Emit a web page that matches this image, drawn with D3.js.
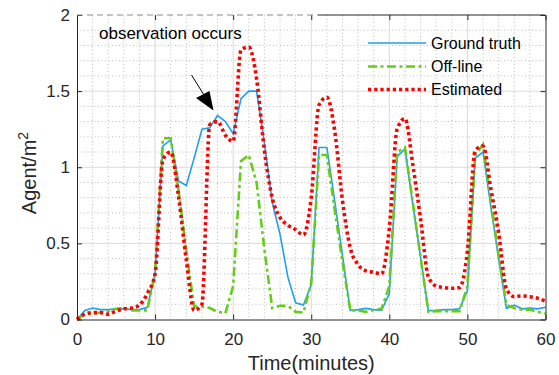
<!DOCTYPE html>
<html>
<head>
<meta charset="utf-8">
<script src="https://cdn.jsdelivr.net/npm/d3@7"></script>
<style>
  html, body { margin: 0; padding: 0; background: #fff; }
  svg { display: block; font-family: "Liberation Sans", Arial, sans-serif; }
</style>
</head>
<body>
<svg id="chart" width="559" height="375"></svg>
<script>
// ---- data ----
const time = d3.range(0, 61);
const groundTruth = [0, 0.06, 0.075, 0.065, 0.065, 0.07, 0.07, 0.065, 0.065, 0.08, 0.3,
  1.14, 1.18, 0.91, 0.88, 1.06, 1.25, 1.26, 1.34, 1.3, 1.22,
  1.45, 1.5, 1.5, 1.16, 0.77, 0.56, 0.28, 0.11, 0.095, 0.23,
  1.13, 1.13, 0.78, 0.42, 0.06, 0.065, 0.073, 0.065, 0.06, 0.17,
  1.07, 1.12, 0.76, 0.41, 0.058, 0.06, 0.065, 0.065, 0.07, 0.19,
  1.06, 1.10, 0.74, 0.40, 0.073, 0.095, 0.07, 0.075, 0.07, 0.08];
const offLine = [0, 0.035, 0.04, 0.045, 0.055, 0.07, 0.075, 0.06, 0.06, 0.06, 0.31,
  1.19, 1.19, 0.85, 0.45, 0.085, 0.085, 0.075, 0.05, 0.042, 0.22,
  1.04, 1.08, 0.9, 0.46, 0.075, 0.09, 0.09, 0.05, 0.045, 0.24,
  1.08, 1.08, 0.72, 0.38, 0.06, 0.06, 0.05, 0.062, 0.07, 0.22,
  1.10, 1.13, 0.77, 0.41, 0.05, 0.055, 0.055, 0.055, 0.055, 0.22,
  1.08, 1.15, 0.78, 0.42, 0.095, 0.075, 0.065, 0.065, 0.05, 0.04];
const estimated = [0, 0.035, 0.045, 0.045, 0.035, 0.055, 0.07, 0.075, 0.095, 0.17, 0.3,
  1.05, 1.1, 0.81, 0.39, 0.06, 0.1, 1.28, 1.30, 1.21, 1.17,
  1.77, 1.79, 1.58, 1.11, 0.8, 0.67, 0.62, 0.59, 0.555, 0.8,
  1.41, 1.46, 1.24, 0.78, 0.47, 0.36, 0.32, 0.31, 0.30, 0.6,
  1.25, 1.32, 1.02, 0.66, 0.28, 0.22, 0.21, 0.205, 0.21, 0.45,
  1.11, 1.14, 0.86, 0.57, 0.2, 0.15, 0.155, 0.15, 0.14, 0.12];
const xTicks = [0, 10, 20, 30, 40, 50, 60];
const yTicks = [0, 0.5, 1, 1.5, 2];
const seriesNames = ["Ground truth", "Off-line", "Estimated"];
const annotation = "observation occurs";

// ---- layout ----
const svg = d3.select("#chart");
const L = 77, R = 545.5, T = 15, B = 319.5;
const x = d3.scaleLinear().domain([0, 60]).range([L, R]);
const y = d3.scaleLinear().domain([0, 2]).range([B, T]);

// minor grid
const gMinor = svg.append("g");
gMinor.selectAll("line.vx").data(d3.range(2, 60, 2).filter(v => v % 10 !== 0)).join("line")
  .attr("x1", d => x(d)).attr("x2", d => x(d)).attr("y1", T).attr("y2", B)
  .attr("stroke", "#bdbdbd").attr("stroke-width", 1).attr("stroke-dasharray", "1,2.5");
gMinor.selectAll("line.hy").data(d3.range(1, 20).filter(v => v % 5 !== 0).map(v => v / 10)).join("line")
  .attr("y1", d => y(d)).attr("y2", d => y(d)).attr("x1", L).attr("x2", R)
  .attr("stroke", "#bdbdbd").attr("stroke-width", 1).attr("stroke-dasharray", "1,2.5");
// major grid
const gMajor = svg.append("g");
gMajor.selectAll("line.vx").data(xTicks.slice(1, -1)).join("line")
  .attr("x1", d => x(d)).attr("x2", d => x(d)).attr("y1", T).attr("y2", B)
  .attr("stroke", "#dadada").attr("stroke-width", 1);
gMajor.selectAll("line.hy").data(yTicks.slice(1, -1)).join("line")
  .attr("y1", d => y(d)).attr("y2", d => y(d)).attr("x1", L).attr("x2", R)
  .attr("stroke", "#dadada").attr("stroke-width", 1);

// series
const lineLin = d3.line().x((d, i) => x(time[i])).y(d => y(d));
const lineSmooth = d3.line().x((d, i) => x(time[i])).y(d => y(d)).curve(d3.curveMonotoneX);
const plot = svg.append("g");
plot.append("path").datum(groundTruth).attr("d", lineLin)
  .attr("fill", "none").attr("stroke", "#1e9ff0").attr("stroke-width", 1.6);
plot.append("path").datum(offLine).attr("d", lineLin)
  .attr("fill", "none").attr("stroke", "#66cc1a").attr("stroke-width", 2.6)
  .attr("stroke-dasharray", "9,3.5,3,3.5");
plot.append("path").datum(estimated).attr("d", lineSmooth)
  .attr("fill", "none").attr("stroke", "#ff0000").attr("stroke-width", 3.6)
  .attr("stroke-dasharray", "3.2,3");

// axes
const axisColor = "#262626";
const fmt = d => String(d);
const gx = svg.append("g").attr("transform", `translate(0,${B})`)
  .call(d3.axisBottom(x).tickValues(xTicks).tickFormat(fmt).tickSizeInner(-5).tickSizeOuter(0).tickPadding(13));
const gy = svg.append("g").attr("transform", `translate(${L},0)`)
  .call(d3.axisLeft(y).tickValues(yTicks).tickFormat(fmt).tickSizeInner(-5).tickSizeOuter(0).tickPadding(7));
const gt = svg.append("g").attr("transform", `translate(0,${T})`)
  .call(d3.axisTop(x).tickValues(xTicks).tickFormat("").tickSizeInner(-5).tickSizeOuter(0));
const gr = svg.append("g").attr("transform", `translate(${R},0)`)
  .call(d3.axisRight(y).tickValues(yTicks).tickFormat("").tickSizeInner(-5).tickSizeOuter(0));
[gx, gy, gt, gr].forEach(g => {
  g.selectAll(".tick line").attr("stroke", axisColor);
  g.selectAll(".domain").attr("stroke", axisColor);
  g.selectAll("text").attr("fill", "#262626").style("font-size", "17px")
    .style("font-family", "'Liberation Sans', Arial, sans-serif");
});
// top border: left part appears dashed grey in the reference
gt.select(".domain").remove();
svg.append("line").attr("x1", L).attr("x2", 318).attr("y1", T).attr("y2", T)
  .attr("stroke", "#8c8c8c").attr("stroke-width", 1.2).attr("stroke-dasharray", "6,4");
svg.append("line").attr("x1", 318).attr("x2", R).attr("y1", T).attr("y2", T)
  .attr("stroke", axisColor).attr("stroke-width", 1);

// axis labels
svg.append("text").attr("x", (L + R) / 2).attr("y", 370).attr("text-anchor", "middle")
  .style("font-size", "20px").attr("fill", "#262626").text("Time(minutes)");
const yl = svg.append("text").attr("transform", "translate(36,173) rotate(-90)")
  .attr("text-anchor", "middle").style("font-size", "20px").attr("fill", "#262626");
yl.append("tspan").text("Agent/m");
yl.append("tspan").attr("dy", "-8").style("font-size", "14px").text("2");

// legend
const legendColors = ["#1e9ff0", "#66cc1a", "#ff0000"];
const legendWidths = [1.6, 2.6, 3.6];
const legendDash = [null, "9,3.5,3,3.5", "3.2,3"];
const legendY = [43, 66.5, 89.5];
const lg = svg.append("g");
seriesNames.forEach((name, i) => {
  lg.append("line").attr("x1", 368).attr("x2", 426).attr("y1", legendY[i]).attr("y2", legendY[i])
    .attr("stroke", legendColors[i]).attr("stroke-width", legendWidths[i])
    .attr("stroke-dasharray", legendDash[i]);
  lg.append("text").attr("x", 431).attr("y", legendY[i]).attr("dy", "0.35em")
    .style("font-size", "16px").attr("fill", "#000").text(name);
});

// annotation
svg.append("text").attr("x", 99).attr("y", 33).attr("dy", "0.35em")
  .style("font-size", "17px").attr("fill", "#000").text(annotation);
svg.append("line").attr("x1", 191.5).attr("y1", 75).attr("x2", 204).attr("y2", 95)
  .attr("stroke", "#000").attr("stroke-width", 1);
svg.append("path").attr("d", "M196,98 L209.5,91 L213.5,110.5 Z").attr("fill", "#000");
</script>
</body>
</html>
